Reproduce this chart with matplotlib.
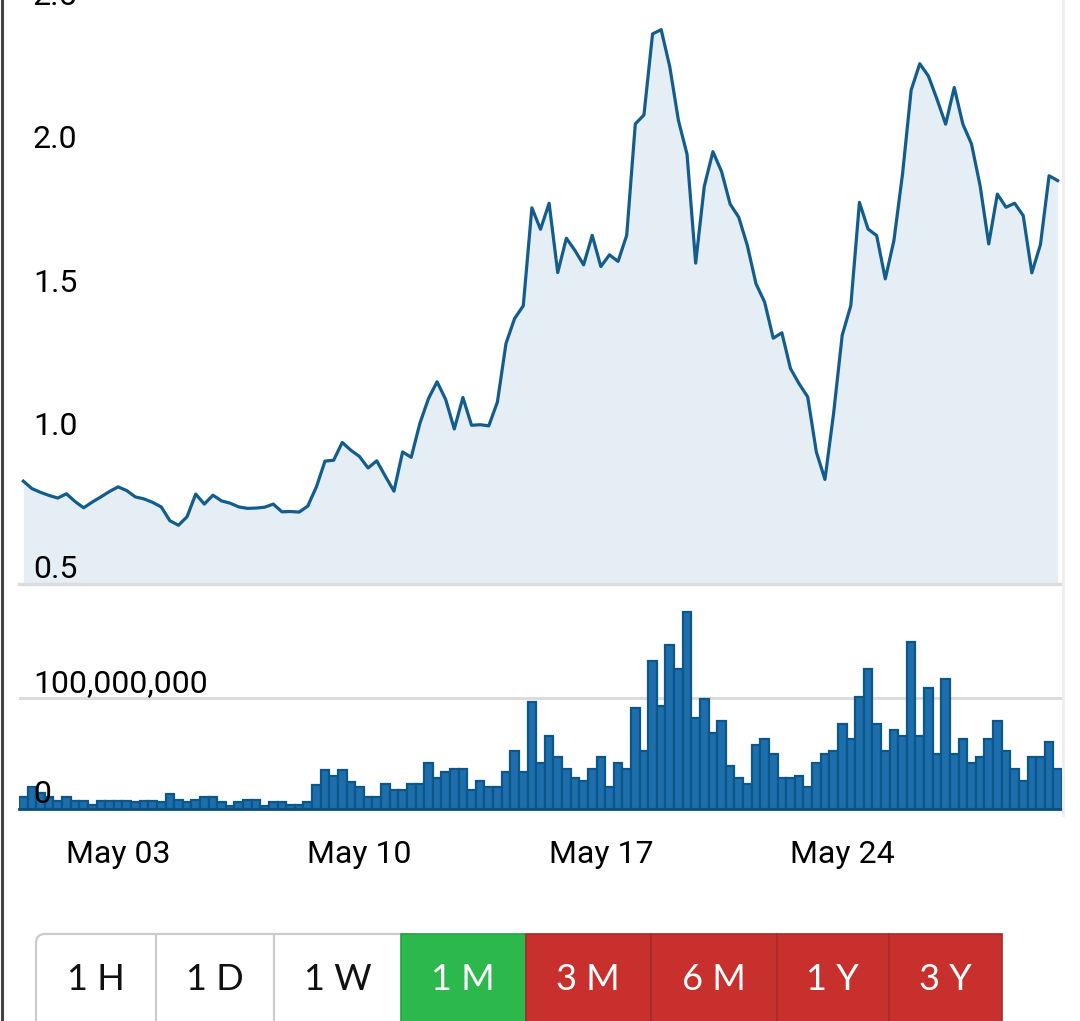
import pandas as pd
import matplotlib
matplotlib.use('Agg')
import matplotlib.pyplot as plt
import matplotlib.dates as mdates
from matplotlib.lines import Line2D
from matplotlib.patches import Rectangle, FancyBboxPatch
from matplotlib.ticker import FuncFormatter

# price every 6 hours, about one month
price = [0.859, 0.833, 0.820, 0.809, 0.800, 0.815, 0.788, 0.766, 0.786, 0.804,
         0.823, 0.839, 0.826, 0.804, 0.797, 0.785, 0.769, 0.721, 0.705, 0.735,
         0.814, 0.779, 0.810, 0.790, 0.782, 0.769, 0.764, 0.765, 0.768, 0.779,
         0.752, 0.753, 0.751, 0.772, 0.839, 0.929, 0.932, 0.994, 0.967, 0.945,
         0.905, 0.930, 0.876, 0.824, 0.961, 0.942, 1.060, 1.147, 1.206, 1.144,
         1.041, 1.151, 1.054, 1.056, 1.052, 1.135, 1.340, 1.427, 1.471, 1.813,
         1.738, 1.829, 1.587, 1.707, 1.664, 1.614, 1.717, 1.608, 1.649, 1.626,
         1.717, 2.106, 2.137, 2.420, 2.435, 2.305, 2.118, 2.000, 1.620, 1.888,
         2.009, 1.940, 1.826, 1.780, 1.681, 1.548, 1.484, 1.358, 1.377, 1.252,
         1.199, 1.153, 0.961, 0.865, 1.095, 1.368, 1.472, 1.832, 1.739, 1.716,
         1.565, 1.699, 1.931, 2.224, 2.316, 2.273, 2.192, 2.105, 2.233, 2.105,
         2.036, 1.890, 1.687, 1.861, 1.815, 1.829, 1.786, 1.586, 1.685, 1.925,
         1.908]

# volume in millions
volume_m = [11, 19.6, 14, 10.5, 7.5, 11, 7.5, 7.5, 3.6, 7.5,
            7.5, 7.5, 7.5, 6, 7.5, 7.5, 6, 13.5, 8, 6,
            8, 11, 11, 6, 3, 6, 8, 8, 3, 6,
            6, 3.6, 3.6, 6, 21.7, 35.2, 30, 35.2, 24.7, 19.6,
            11, 11, 22.6, 17.2, 17.2, 22.6, 22.6, 41.3, 28, 33.1,
            36.1, 36.1, 17.2, 25, 19.6, 19.6, 33.1, 52.1, 33.1, 95.8,
            41.3, 65.7, 46.7, 35.5, 27.7, 25, 35.5, 46.7, 19.6, 41.3,
            35.5, 90.4, 52.1, 133.4, 92.8, 147, 125.6, 176.8, 81.9, 98.5,
            68.4, 79.2, 38.6, 27.7, 22.6, 57.2, 62.7, 49.1, 27.7, 27.7,
            30.1, 19.6, 41.3, 49.1, 51.8, 76.2, 63.3, 100.9, 125.6, 76.2,
            52.1, 70.8, 65.7, 149.7, 65.7, 109, 49.1, 117.2, 49.1, 62.7,
            41.3, 46.7, 62.7, 79.2, 52.1, 35.5, 25, 46.7, 46.7, 60.2,
            35.5]
volume = [v * 1e6 for v in volume_m]

times = pd.date_range('2021-04-30 06:00', periods=len(price), freq='6h')

price_ticks = [0.5, 1.0, 1.5, 2.0, 2.5]
volume_ticks = [0, 100000000]
date_ticks = pd.to_datetime(['2021-05-03', '2021-05-10', '2021-05-17', '2021-05-24'])
buttons = ['1 H', '1 D', '1 W', '1 M', '3 M', '6 M', '1 Y', '3 Y']
active = '1 M'

plt.rcParams['font.family'] = ['Roboto', 'DejaVu Sans']
plt.rcParams['font.size'] = 23

W, H = 1080, 1021
fig = plt.figure(figsize=(W / 100, H / 100), dpi=100)


def box(left, top, right, bottom):
    # pixel box -> figure fraction
    return [left / W, 1 - bottom / H, (right - left) / W, (bottom - top) / H]


half = pd.Timedelta(hours=3)
xlim = (times[0] - half, times[-1] + half)

# price panel
ax = fig.add_axes(box(19, 0, 1062, 584))
ax.fill_between(times, price, 0.5, color='#e5eef5', lw=0)
ax.plot(times, price, color='#125d8e', lw=2.3)
ax.axhline(0.5, color='#dcdcdc', lw=2.4, clip_on=False)
ax.set_xlim(xlim)
ax.set_ylim(0.5, 0.5 + 584 / 286.5)
ax.set_yticks(price_ticks, labels=[f'{t:.1f}' for t in price_ticks])
ax.tick_params(axis='y', length=0, pad=-10)
for lab in ax.get_yticklabels():
    lab.set_horizontalalignment('left')
    lab.set_verticalalignment('bottom')
ax.set_xticks([])
ax.set_axisbelow(False)
for s in ax.spines.values():
    s.set_visible(False)

# volume panel
ax2 = fig.add_axes(box(19, 590, 1062, 809))
ax2.axhline(1e8, color='#dcdcdc', lw=2.2, zorder=0.5)
ax2.bar(times, volume, width=0.25, color='#1d6eab', edgecolor='#0c568e', linewidth=1.6)
ax2.axhline(0, color='#0d4c7c', lw=2, zorder=3, clip_on=False)
ax2.set_xlim(xlim)
ax2.set_ylim(0, 196.8e6)
ax2.set_yticks(volume_ticks)
ax2.yaxis.set_major_formatter(FuncFormatter(lambda v, p: f'{v:,.0f}'))
ax2.tick_params(axis='y', length=0, pad=-10)
for lab in ax2.get_yticklabels():
    lab.set_horizontalalignment('left')
    lab.set_verticalalignment('bottom')
ax2.set_xticks(date_ticks)
ax2.xaxis.set_major_formatter(mdates.DateFormatter('%b %d'))
ax2.tick_params(axis='x', length=0, pad=22)
ax2.set_axisbelow(False)
for s in ax2.spines.values():
    s.set_visible(False)

# screen edges
fig.add_artist(Line2D([1.5 / W, 1.5 / W], [0, 1], color='#444444', lw=2.2))
fig.add_artist(Line2D([1063 / W, 1063 / W], [1 - 815 / H, 1], color='#eeeeee', lw=2))

# range buttons
bx = fig.add_axes([0, 0, 1, 1], zorder=-1)
bx.set_xlim(0, W)
bx.set_ylim(H, 0)
bx.axis('off')
edges = [36, 155.6, 274, 401, 525.5, 651, 777, 888.5, 1002]
top, bottom = 934, 1060
ai = buttons.index(active)
bx.add_patch(FancyBboxPatch((edges[0], top), edges[ai] + 20 - edges[0], bottom - top,
                            boxstyle='round,pad=0,rounding_size=9',
                            fc='white', ec='#cccccc', lw=1.6))
for i, lab in enumerate(buttons):
    l, r = edges[i], edges[i + 1]
    if i < ai:
        if i > 0:
            bx.plot([l, l], [top, H], color='#cccccc', lw=1.6)
        tc = '#111111'
    else:
        fc = '#2db84e' if i == ai else '#c7302c'
        ec = '#22a343' if i == ai else '#a92828'
        bx.add_patch(Rectangle((l, top), r - l, bottom - top, fc=fc, ec=ec, lw=1.2))
        tc = 'white'
    bx.text((l + r) / 2, 979, lab, ha='center', va='center', fontsize=26,
            family=['Lato', 'DejaVu Sans'], fontweight='normal', color=tc)

fig.savefig('out.png', dpi=100, facecolor='white')
